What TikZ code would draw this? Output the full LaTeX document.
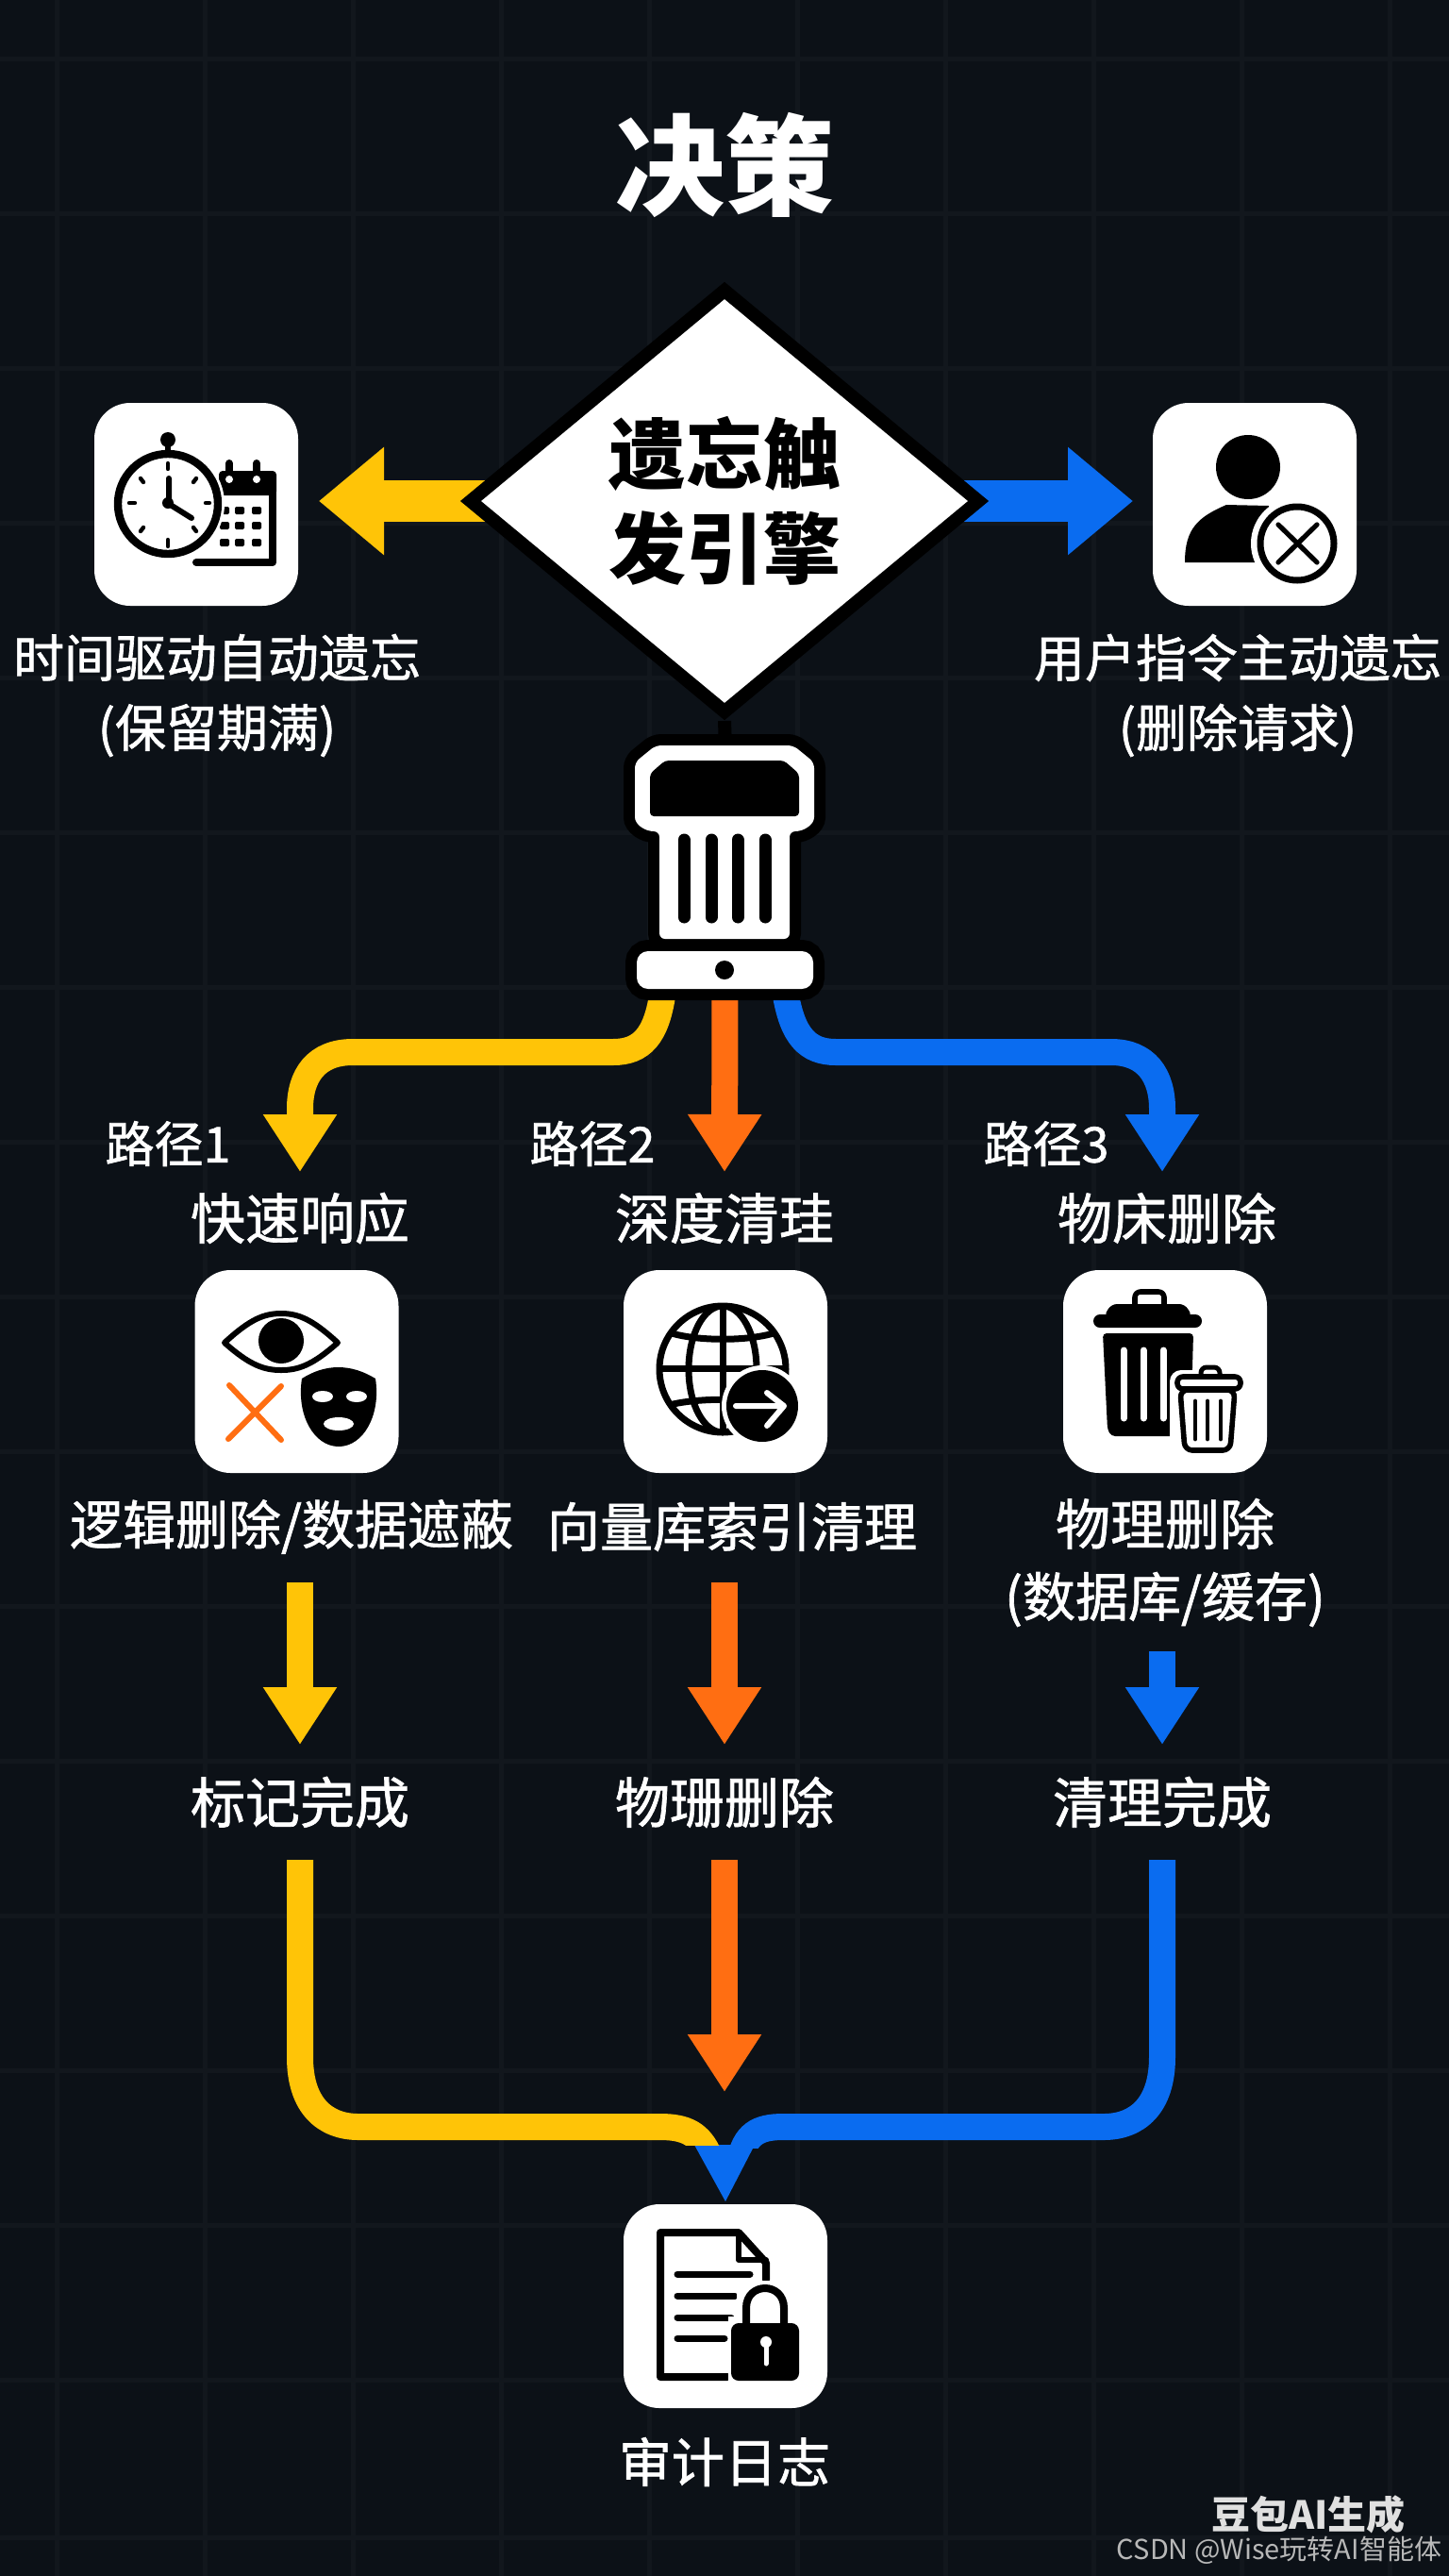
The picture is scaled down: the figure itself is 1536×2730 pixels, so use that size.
\documentclass[tikz,border=0pt]{standalone}
\usepackage{fontspec}
\usetikzlibrary{shapes.geometric,arrows.meta}
\setmainfont{Noto Sans CJK SC}
\newfontfamily\lblf[RawFeature={embolden=1.2}]{Noto Sans CJK SC}
\definecolor{bg}{HTML}{0C1117}
\definecolor{gridc}{HTML}{12171D}
\definecolor{ylw}{HTML}{FFC407}
\definecolor{org}{HTML}{FF6E12}
\definecolor{blu}{HTML}{0A6CF0}
\pgfdeclarelayer{ground}
\pgfdeclarelayer{arrowlayer}
\pgfsetlayers{ground,arrowlayer,main}
\tikzset{
 lbl/.style={text=white,font=\lblf\fontsize{27}{37}\selectfont,align=center,inner sep=0pt,outer sep=0pt},
 lblb/.style={lbl,font=\lblf\fontsize{28}{38}\selectfont},
 lblc/.style={lbl,font=\lblf\fontsize{29}{38}\selectfont},
 plbl/.style={text=white,font=\lblf\fontsize{26}{30}\selectfont,inner sep=0pt,outer sep=0pt},
 ic/.style={fill=white,rounded corners=19pt,minimum width=108pt,minimum height=107.5pt,inner sep=0pt,outer sep=0pt},
 conn/.style={line width=14pt,-{Triangle[length=30.5pt,width=37pt]}},
 fat/.style={line width=22pt,-{Triangle[length=34.5pt,width=55pt]}},
 ink/.style={draw=black,line cap=round,line join=round},
 gridl/.style={draw=gridc,line width=2.5pt},
}
\begin{document}
\begin{tikzpicture}[x=0.5pt,y=-0.5pt]
\useasboundingbox (0,0) rectangle (1536,2730);
\begin{pgfonlayer}{ground}
\fill[bg] (0,0) rectangle (1536,2730);
\foreach \gx in {60,217,374,531,688,845,1002,1159,1316,1473} \draw[gridl] (\gx,0) -- (\gx,2730);
\foreach \gy in {62,226,390,554,718,882,1046,1210,1374,1538,1702,1866,2030,2194,2358,2522,2689} \draw[gridl] (0,\gy) -- (1536,\gy);
\end{pgfonlayer}

% nodes
\node[text=white,font=\bfseries\fontsize{58}{60}\selectfont,inner sep=0pt] (title) at (768,175) {决策};
\node[ic] (timebox) at (208,534.5) {};
\node[ic] (userbox) at (1330,534.5) {};
\node[lbl] (tlabel) at (230,737) {时间驱动自动遗忘\\(保留期满)};
\node[lbl] (ulabel) at (1312,737) {用户指令主动遗忘\\(删除请求)};

\node[inner sep=0pt,outer sep=0pt,minimum width=106.5pt,minimum height=142pt] (engine) at (768.5,920) {};

\node[plbl] (p1) at (178,1212) {路径1};
\node[plbl] (p2) at (628,1212) {路径2};
\node[plbl] (p3) at (1109,1212) {路径3};
\node[lblc,minimum height=49pt] (q1) at (318,1291) {快速响应};
\node[lblc,minimum height=49pt] (q2) at (768,1291) {深度清珪};
\node[lblc,minimum height=49pt] (q3) at (1237,1291) {物床删除};

\node[ic] (maskbox) at (314.5,1453.5) {};
\node[ic] (globebox) at (769,1453.5) {};
\node[ic] (trashbox) at (1235,1453.5) {};

\node[lblb,minimum height=59pt] (del1) at (309,1618) {逻辑删除/数据遮蔽};
\node[lblb,minimum height=59pt] (del2) at (776,1618) {向量库索引清理};
\node[lblb,minimum height=94pt] (del3) at (1235,1656) {{\fontsize{29}{38}\selectfont 物理删除}\\{\fontsize{28}{38}\selectfont(数据库/缓存)}};

\node[lblc,minimum height=61pt] (done1) at (318,1910) {标记完成};
\node[lblc,minimum height=61pt] (done2) at (768,1910) {物珊删除};
\node[lblc,minimum height=61pt] (done3) at (1232,1910) {清理完成};

\node[ic,minimum height=108pt] (docbox) at (769,2444) {};
\node[lblb] (audit) at (768,2609) {审计日志};
\node[text=white!88!black,font=\bfseries\fontsize{20.5}{24}\selectfont,inner sep=0pt] (mark1) at (1387,2665) {豆包AI生成};
\node[text=white!72!black,font=\fontsize{14.5}{18}\selectfont,inner sep=0pt] (mark2) at (1356,2703) {CSDN @Wise玩转AI智能体};

% diamond and its arrows
\node[diamond,aspect=1.2,fill=white,draw=black,line width=7pt,minimum width=272pt,minimum height=226pt,inner sep=0pt,align=center,font=\bfseries\fontsize{41}{50}\selectfont] (trigger) at (768,531) {遗忘触\\发引擎};
\begin{pgfonlayer}{arrowlayer}
\draw[fat,draw=ylw] (trigger.center) -- (timebox.east |- trigger.center) [shorten >=11pt];
\draw[fat,draw=blu] (trigger.center) -- (userbox.west |- trigger.center) [shorten >=10.5pt];
\end{pgfonlayer}

% branches
\draw[conn,draw=ylw] ([xshift=-33pt,yshift=5pt]engine.south) .. controls (696,1098) and (680,1115) .. (650,1115) -- (374,1115) .. controls (335,1115) and (318,1140) .. (318,1175) -- (q1.north);
\draw[conn,draw=org] ([yshift=5pt]engine.south) -- (q2.north);
\draw[conn,draw=blu] ([xshift=32pt,yshift=5pt]engine.south) .. controls (840,1098) and (856,1115) .. (886,1115) -- (1178,1115) .. controls (1215,1115) and (1232,1140) .. (1232,1175) -- (q3.north -| done3.north);

% engine
\draw[line width=7pt,draw=black] (trigger.south) -- (engine.north);
\path[preaction={draw=black,line width=12pt},fill=white,rounded corners=3pt] (695,790) -- (841,790) -- (863,808) -- (863,860) .. controls (863,874) and (852,881) .. (837,881) -- (837,995) -- (699,995) -- (699,881) .. controls (684,881) and (673,874) .. (673,860) -- (673,808) -- cycle;
\fill[black,rounded corners=2pt] (705,806) -- (831,806) -- (847,820) -- (847,865) -- (689,865) -- (689,820) -- cycle;
\foreach \sx in {725,754,782,811} \draw[ink,line width=6.5pt] (\sx,890) -- (\sx,972);
\path[preaction={draw=black,line width=12pt},fill=white,rounded corners=6pt] (675,1008) rectangle (862,1048);
\fill[black] (768,1028) circle[radius=10];

% vertical connectors
\draw[conn,draw=ylw] (del1.south -| done1.north) -- (done1.north);
\draw[conn,draw=org] (del2.south -| done2.north) -- (done2.north);
\draw[conn,draw=blu] (del3.south -| done3.north) -- (done3.north);
\coordinate (mergetip) at ([yshift=1.5pt]docbox.north);
\begin{scope}
\clip (0,0) rectangle (1536,2276);
\draw[line width=14pt,draw=blu] (done3.south) -- (1232,2180) .. controls (1232,2232) and (1205,2254) .. (1170,2254) -- (830,2254) .. controls (803,2254) and (790,2262) .. (784,2290);
\end{scope}
\fill[blu] (736,2273) -- (800,2273) -- (mergetip) -- cycle;
\begin{scope}
\clip (0,0) rectangle (1536,2273);
\draw[line width=14pt,draw=ylw] (done1.south) -- (318,2180) .. controls (318,2232) and (345,2254) .. (380,2254) -- (700,2254) .. controls (728,2254) and (742,2262) .. (752,2285);
\end{scope}
\coordinate (otip) at (768,2217);
\draw[conn,draw=org] (done2.south) -- (otip);

% clock + calendar
\fill[black,rounded corners=2pt] (232,499) -- (293,499) -- (293,525) -- (232,525) -- cycle;
\draw[ink,line width=4pt] (289,510) -- (289,596) -- (208,596);
\foreach \rx in {243,272} {\draw[ink,line width=4pt] (\rx,491) -- (\rx,505); \fill[white] (\rx,508) circle[radius=4];}
\foreach \cy in {541,557,575} \foreach \cx in {238,254,272} \fill[black,rounded corners=0.7pt] (\cx-5,\cy-4) rectangle (\cx+5,\cy+4);
\fill[white] (178,534) circle[radius=60];
\draw[ink,line width=4.2pt] (178,534) circle[radius=53];
\fill[black] (178,466) circle[radius=8];
\draw[ink,line width=3pt] (178,470) -- (178,482);
\foreach \tx/\ty/\ux/\uy in {178/491/178/497,149/507/152/511,137/533/143/533,149/563/152/559,178/572/178/579,208/563/205/559,218/533/222/533,208/507/205/511}
 \draw[ink,line width=2.2pt] (\tx,\ty) -- (\ux,\uy);
\draw[ink,line width=3pt] (179,507) -- (179,534) -- (203,549);
\fill[black] (178,533) circle[radius=6];

% user
\fill[black] (1323,495) circle[radius=34];
\fill[black] (1256,596) .. controls (1256,560) and (1270,548) .. (1300,535) -- (1345,536) -- (1345,596) -- cycle;
\fill[white] (1375,576) circle[radius=49];
\draw[ink,line width=3.5pt] (1375,576) circle[radius=39];
\draw[ink,line width=2.6pt] (1355,556) -- (1396,596) (1396,556) -- (1355,596);

% eye + mask
\draw[ink,line width=3pt] (238,1423) .. controls (265,1398) and (280,1392) .. (298,1392) .. controls (316,1392) and (331,1398) .. (358,1423) .. controls (331,1447) and (316,1452) .. (298,1452) .. controls (280,1452) and (265,1447) .. (238,1423) -- cycle;
\fill[black] (298,1421) circle[radius=24];
\draw[org,line width=3pt,line cap=round] (243,1468) -- (298,1526) (298,1469) -- (242,1525);
\fill[black] (320,1461) .. controls (345,1445) and (372,1445) .. (398,1461) .. controls (404,1500) and (385,1533) .. (359,1533) .. controls (333,1533) and (314,1500) .. (320,1461) -- cycle;
\fill[white] (342,1480) ellipse[x radius=11,y radius=6] (378,1480) ellipse[x radius=11,y radius=6] (359,1509) ellipse[x radius=16,y radius=7];

% globe
\begin{scope}
\clip (766,1451) circle[radius=67];
\draw[black,line width=3.5pt] (766,1451) ellipse[x radius=36,y radius=67];
\draw[black,line width=3.5pt] (766,1384) -- (766,1518) (699,1450) -- (833,1450);
\draw[black,line width=3.5pt] (706,1411) .. controls (735,1422) and (797,1422) .. (826,1411);
\draw[black,line width=3.5pt] (706,1490) .. controls (735,1481) and (797,1481) .. (826,1490);
\end{scope}
\draw[black,line width=3.5pt] (766,1451) circle[radius=67];
\fill[white] (808,1490) circle[radius=43];
\fill[black] (808,1490) circle[radius=38];
\draw[white,line width=3pt,line cap=round,line join=round] (780,1490) -- (831,1490) (813,1476) -- (831,1490) -- (813,1511);

% trash
\fill[black,rounded corners=3.5pt] (1159,1393) rectangle (1274,1407);
\fill[black,rounded corners=3pt] (1170,1395) -- (1178,1382) -- (1256,1382) -- (1264,1395) -- cycle;
\draw[ink,line width=2.8pt,rounded corners=3pt] (1203,1382) -- (1203,1369) -- (1234,1369) -- (1234,1382);
\fill[black,rounded corners=2pt] (1169,1413) -- (1265,1413) -- (1262,1522) -- (1178,1522) -- (1174,1515) -- cycle;
\foreach \sx in {1191,1212,1233} \draw[white,line width=3.5pt,line cap=round] (\sx,1431) -- (\sx,1503);
\fill[white,rounded corners=6pt] (1240,1452) rectangle (1326,1560);
\fill[white] (1265,1440) rectangle (1326,1460);
\draw[ink,line width=2.5pt,rounded corners=3pt] (1273,1459) -- (1273,1449) -- (1293,1449) -- (1293,1459);
\draw[ink,line width=2.8pt,rounded corners=3pt] (1248,1459) rectangle (1315,1472);
\draw[ink,line width=2.8pt,rounded corners=4pt] (1251,1473) -- (1309,1473) -- (1304,1537) -- (1256,1537) -- cycle;
\foreach \sx in {1267,1280,1294} \draw[ink,line width=2.4pt] (\sx,1485) -- (\sx,1525);

% document + lock
\draw[ink,line width=4pt] (812,2416) -- (812,2398) -- (783,2366) -- (700,2366) -- (700,2519) -- (771,2519);
\draw[ink,line width=3pt] (783,2366) -- (783,2395) -- (812,2395);
\draw[ink,line width=3.5pt] (718,2410) -- (795,2410) (718,2433) -- (779,2433) (718,2456) -- (775,2456) (718,2478) -- (768,2478);
\fill[white] (772,2455) rectangle (852,2530);
\fill[white] (781,2417) rectangle (842,2460);
\draw[black,line width=4pt] (791,2464) -- (791,2446) .. controls (791,2418) and (831,2418) .. (831,2446) -- (831,2464);
\fill[black,rounded corners=4pt] (775,2462) rectangle (847,2523);
\fill[white] (812,2482) circle[radius=6];
\draw[white,line width=2.5pt,line cap=round] (812,2484) -- (812,2505);
\end{tikzpicture}
\end{document}
